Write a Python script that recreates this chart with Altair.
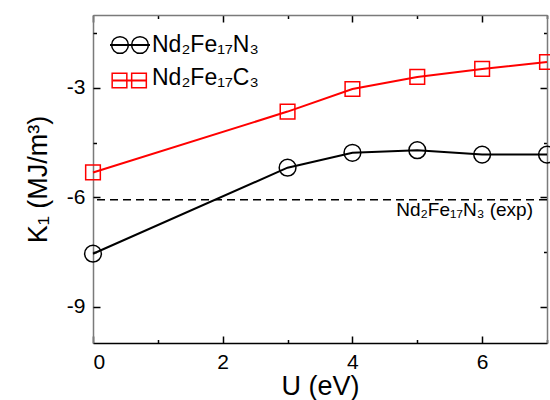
import altair as alt
import pandas as pd

# ---- data ----
U = [0, 3, 4, 5, 6, 7]
K_N3 = [-7.55, -5.19, -4.78, -4.71, -4.83, -4.83]
K_C3 = [-5.32, -3.65, -3.03, -2.70, -2.48, -2.29]
K_EXP = [-6.07]
U_EXP_LABEL = [7]
SERIES = ["Nd₂Fe₁₇N₃", "Nd₂Fe₁₇C₃"]
EXP_LABEL = ["Nd₂Fe₁₇N₃ (exp)"]
X_TICKS = [0, 1, 2, 3, 4, 5, 6, 7]
X_LABELS = [0, 2, 4, 6]
Y_TICKS = [-9, -7.5, -6, -4.5, -3, -1.5]
Y_LABELS = [-9, -6, -3]
MARKERS = ["circle", "square"]
MARKER_SIZES = [280, 215]
COLORS = ["#000000", "#ff0000"]

W, H = 454, 328
FONT = "Liberation Sans"
GRAY = "#7a7a7a"

n = len(U)
df = pd.DataFrame({
    "U": U * 2,
    "K": K_N3 + K_C3,
    "series": [SERIES[0]] * n + [SERIES[1]] * n,
    "shape": [MARKERS[0]] * n + [MARKERS[1]] * n,
    "size": [MARKER_SIZES[0]] * n + [MARKER_SIZES[1]] * n,
})
exp_df = pd.DataFrame({"U": U_EXP_LABEL, "K": K_EXP, "label": EXP_LABEL})
legend_df = pd.DataFrame({"series": SERIES, "shape": MARKERS, "size": MARKER_SIZES})

xs = alt.Scale(domain=[0, 7], nice=False, zero=False)
ys = alt.Scale(domain=[-10, -1], nice=False, zero=False)
cs = alt.Scale(domain=SERIES, range=COLORS)

cond_x = {"condition": {"test": "datum.value % 2 === 0", "value": 7}, "value": 3.5}
cond_y = {"condition": {"test": "datum.value % 3 === 0", "value": 7}, "value": 3.5}

x_main = alt.Axis(orient="bottom", values=X_LABELS, ticks=False, grid=False,
                  labelFontSize=21, labelFont=FONT, labelColor="black", labelPadding=8,
                  domainColor="black", domainWidth=1.5,
                  title="U (eV)", titleFontSize=27, titleFont=FONT, titleFontWeight="normal",
                  titleColor="black", titleX=W / 2, titleY=51, titleBaseline="alphabetic",
                  titleAlign="center")
x_bottom_ticks = alt.Axis(orient="top", offset=-H, values=X_TICKS, labels=False,
                          domain=False, grid=False, tickColor="black", tickWidth=1.5,
                          tickSize=cond_x, title=None)
x_top = alt.Axis(orient="bottom", offset=-H, values=X_TICKS, labels=False,
                 domain=True, domainColor=GRAY, domainWidth=1.5, grid=False,
                 tickColor="black", tickWidth=1.5, tickSize=cond_x, title=None)

y_main = alt.Axis(orient="left", values=Y_LABELS, ticks=False, grid=False,
                  labelExpr="'' + datum.value",
                  labelFontSize=21, labelFont=FONT, labelColor="black", labelPadding=8,
                  domainColor=GRAY, domainWidth=1.5,
                  title="K₁ (MJ/m³)", titleFontSize=27, titleFont=FONT,
                  titleFontWeight="normal", titleColor="black",
                  titleX=-55, titleY=H / 2, titleAngle=270, titleAlign="center",
                  titleBaseline="middle")
y_left_ticks = alt.Axis(orient="right", offset=-W, values=Y_TICKS, labels=False,
                        domain=False, grid=False, tickColor="black", tickWidth=1.5,
                        tickSize=cond_y, title=None)
y_right = alt.Axis(orient="left", offset=-W, values=Y_TICKS, labels=False,
                   domain=True, domainColor=GRAY, domainWidth=1.5, grid=False,
                   tickColor="black", tickWidth=1.5, tickSize=cond_y, title=None)

exp_rule = alt.Chart(exp_df).mark_rule(
    color="black", strokeWidth=1.5, strokeDash=[8, 5]
).encode(y=alt.Y("K:Q", scale=ys, axis=None))

exp_text = alt.Chart(exp_df).mark_text(
    align="right", baseline="alphabetic", dx=-14, dy=16, fontSize=19, font=FONT,
    color="black"
).encode(
    x=alt.X("U:Q", scale=xs, axis=x_top),
    y=alt.Y("K:Q", scale=ys, axis=y_right),
    text="label:N",
)

lines = alt.Chart(df).mark_line(strokeWidth=2).encode(
    x=alt.X("U:Q", scale=xs, axis=x_main),
    y=alt.Y("K:Q", scale=ys, axis=y_main),
    color=alt.Color("series:N", scale=cs, legend=None),
    detail="series:N",
)

points = alt.Chart(df).mark_point(filled=False, strokeWidth=1.5, opacity=1).encode(
    x=alt.X("U:Q", scale=xs, axis=x_bottom_ticks),
    y=alt.Y("K:Q", scale=ys, axis=y_left_ticks),
    color=alt.Color("series:N", scale=cs, legend=None),
    shape=alt.Shape("shape:N", scale=None),
    size=alt.Size("size:Q", scale=None),
)

# ---- legend (drawn in the upper-left corner of the plot area) ----
LEG_SYM_Y = [30, 65.5]        # symbol centre rows (px from plot top)
LEG_TXT_Y = [37, 70]          # label baselines
LEG_LINE = [(17, 57), (20, 54)]
LEG_MARK_X = [(27, 47), (26.5, 46)]
legend_layers = []
for i in range(len(SERIES)):
    row = legend_df.iloc[[i]]
    col = alt.Color("series:N", scale=cs, legend=None)
    legend_layers.append(
        alt.Chart(row).mark_rule(strokeWidth=2).encode(
            x=alt.value(LEG_LINE[i][0]), x2=alt.value(LEG_LINE[i][1]),
            y=alt.value(LEG_SYM_Y[i]), color=col)
    )
    for mx in LEG_MARK_X[i]:
        legend_layers.append(
            alt.Chart(row).mark_point(filled=False, strokeWidth=1.5, opacity=1).encode(
                x=alt.value(mx), y=alt.value(LEG_SYM_Y[i]), color=col,
                shape=alt.Shape("shape:N", scale=None),
                size=alt.Size("size:Q", scale=None))
        )
    legend_layers.append(
        alt.Chart(row).mark_text(align="left", baseline="alphabetic", fontSize=23,
                                 font=FONT, color="black").encode(
            x=alt.value(59), y=alt.value(LEG_TXT_Y[i]), text="series:N")
    )

chart = alt.layer(exp_rule, lines, points, exp_text, *legend_layers).resolve_axis(
    x="independent", y="independent"
).properties(
    width=W, height=H,
    padding={"left": 93, "top": 15, "right": 3, "bottom": 57},
    autosize=alt.AutoSizeParams(type="none"),
    background="white",
).configure_view(stroke=None)

chart.save("out.html", embed_options={"renderer": "svg", "actions": False})
